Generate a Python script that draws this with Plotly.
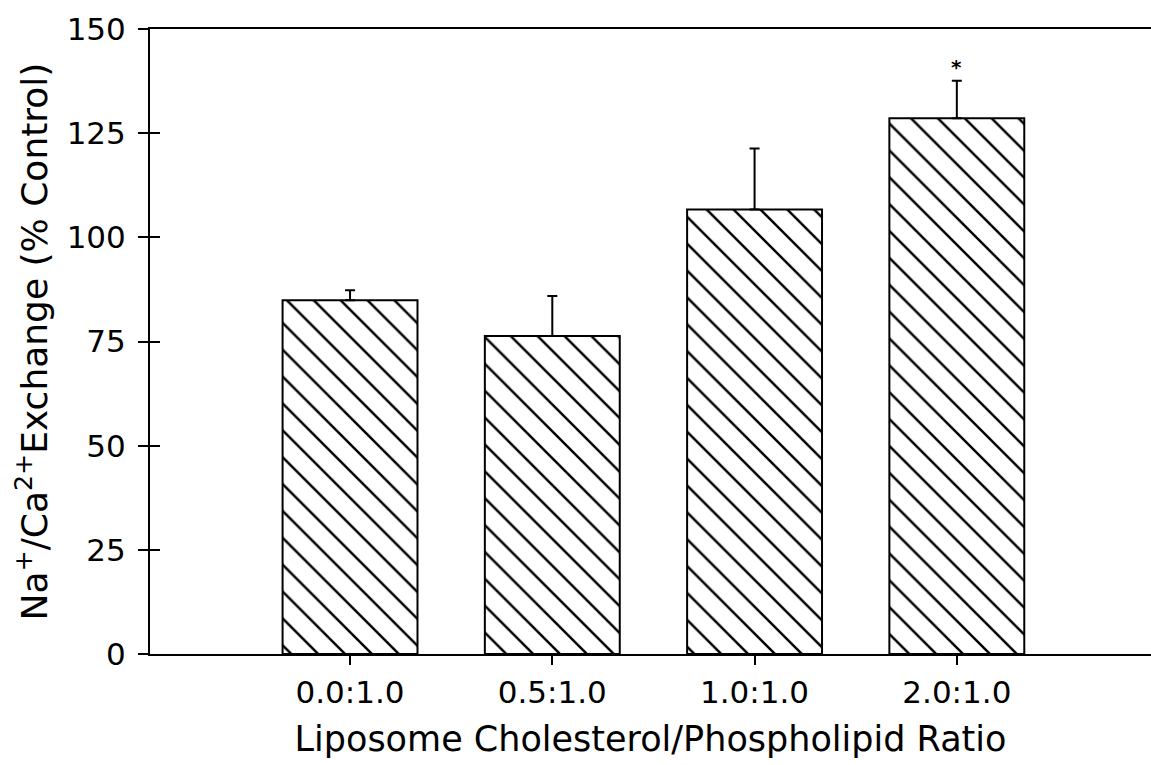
import plotly.graph_objects as go

categories = ["0.0:1.0", "0.5:1.0", "1.0:1.0", "2.0:1.0"]
means = [84.9, 76.3, 106.7, 128.6]
errors = [2.4, 9.6, 14.6, 9.0]
significant = [False, False, False, True]
y_ticks = [0, 25, 50, 75, 100, 125, 150]

FONT = "DejaVu Sans"

fig = go.Figure()
fig.add_trace(go.Bar(
    x=list(range(len(categories))),
    y=means,
    width=0.667,
    marker=dict(
        color="white",
        line=dict(color="black", width=2),
        pattern=dict(shape="\\", fgcolor="black", fgopacity=1, bgcolor="white",
                     size=19, solidity=0.13),
    ),
    error_y=dict(type="data", array=errors, arrayminus=[0]*len(errors), symmetric=False,
                 color="black", thickness=2, width=5),
    xaxis="x", yaxis="y",
    showlegend=False,
))
fig.add_trace(go.Scatter(x=[0], y=[0], mode="markers", marker=dict(opacity=0),
                         xaxis="x", yaxis="y2", showlegend=False, hoverinfo="skip"))

for i, s in enumerate(significant):
    if s:
        fig.add_annotation(x=i, y=means[i] + errors[i], text="<b>*</b>", showarrow=False,
                           yshift=14, font=dict(family=FONT, size=20, color="black"))

fig.update_layout(
    width=1151, height=765,
    margin=dict(l=150, r=0, t=29, b=111),
    plot_bgcolor="white", paper_bgcolor="white",
    font=dict(family=FONT, color="black"),
    xaxis=dict(
        range=[-0.989, 3.96],
        tickmode="array", tickvals=list(range(len(categories))), ticktext=categories,
        ticks="outside", ticklen=9, tickwidth=2, tickcolor="black",
        showline=True, linecolor="black", linewidth=2, mirror=True,
        showgrid=False, zeroline=False,
        tickfont=dict(family=FONT, size=31),
        ticklabelstandoff=1,
        title=dict(text="Liposome Cholesterol/Phospholipid Ratio",
                   font=dict(family=FONT, size=35), standoff=17),
    ),
    yaxis=dict(
        range=[0, 150],
        tickmode="array", tickvals=y_ticks,
        ticks="outside", ticklen=10, tickwidth=2, tickcolor="black",
        showline=True, linecolor="black", linewidth=2,
        showgrid=False, zeroline=False,
        tickfont=dict(family=FONT, size=31),
        ticklabelstandoff=6,
        title=dict(text="Na<sup>+</sup>/Ca<sup>2+</sup>Exchange (% Control)",
                   font=dict(family=FONT, size=36), standoff=8),
    ),
    yaxis2=dict(
        range=[0, 150], overlaying="y", side="left", anchor="x",
        tickmode="array", tickvals=y_ticks,
        ticks="inside", ticklen=10, tickwidth=2, tickcolor="black",
        showticklabels=False, showgrid=False, zeroline=False, showline=False,
    ),
)

fig.write_html("out.html")
